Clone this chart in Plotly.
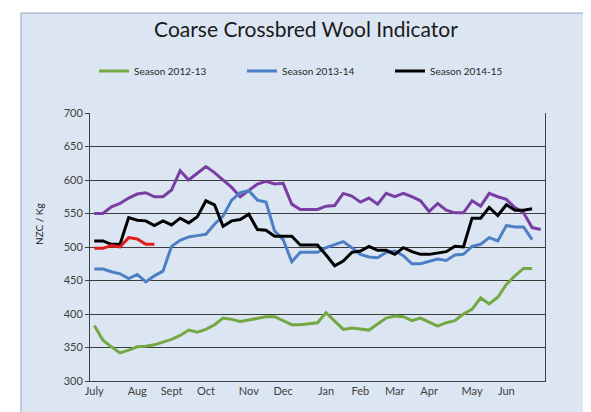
import plotly.graph_objects as go

# ---- data (weekly index 0..52, July -> June) ----
month_labels = ["July", "Aug", "Sept", "Oct", "Nov", "Dec", "Jan", "Feb", "Mar", "Apr", "May", "Jun"]
month_positions = [0, 5, 9, 13, 18, 22, 27, 31, 35, 39, 44, 48]

season_2011_12 = [550, 550, 560, 565, 573, 579, 581, 575, 575, 585, 614, 600, 610, 620,
                  611, 600, 589, 575, 584, 594, 598, 594, 595, 564, 556, 556, 556,
                  561, 562, 580, 576, 567, 573, 564, 580, 575, 580, 575, 569, 553, 565,
                  555, 551, 551, 569, 561, 580, 575, 571, 559, 551, 529, 526]
season_2012_13 = [383, 361, 351, 342, 346, 351, 352, 354, 358, 362,
                  368, 376, 373, 377, 384, 394, 392, 389, 391, 394,
                  396, 396, 390, 384, 384, 385, 387, 402, 390, 377,
                  379, 377, 376, 385, 394, 397, 396, 390, 394, 388,
                  382, 387, 390, 400, 407, 424, 415, 425, 444, 457, 468, 468]
season_2013_14 = [467, 467, 463, 460, 453, 459, 448, 457, 464, 501, 510, 515, 517, 519,
                  534, 546, 570, 581, 584, 570, 567, 524, 511, 478, 492, 492, 492,
                  499, 504, 508, 499, 489, 485, 484, 492, 494, 487, 475, 475, 478, 482,
                  480, 488, 489, 501, 504, 514, 509, 532, 530, 530, 511]
season_2014_15 = [509, 509, 504, 504, 544, 540, 539, 532, 539, 533, 543, 536, 545, 569,
                  563, 531, 539, 541, 549, 526, 525, 516, 516, 516, 503, 503, 503,
                  488, 472, 479, 492, 494, 501, 495, 495, 489, 499, 493, 489, 489, 491,
                  493, 501, 500, 543, 543, 559, 547, 563, 555, 555, 557]
season_2015_16 = [498, 498, 502, 500, 514, 512, 504, 504]

series = [
    ("Season 2011-12", season_2011_12, "#7a3ea3", False),
    ("Season 2012-13", season_2012_13, "#74a844", True),
    ("Season 2013-14", season_2013_14, "#4d7fc4", True),
    ("Season 2014-15", season_2014_15, "#000000", True),
    ("Season 2015-16", season_2015_16, "#e21b1b", False),
]

fig = go.Figure()
for name, vals, color, show in series:
    fig.add_trace(go.Scatter(
        x=list(range(len(vals))), y=vals, mode="lines", name=name,
        line=dict(color=color, width=3), showlegend=show,
    ))

FONT = "Lato"
L, R, T, B = 82, 54, 105, 39
PW, PH = 591 - L - R, 412 - T - B

def px_x(p):
    return (p - L) / PW

def px_y(p):
    return (412 - B - p) / PH

fig.update_layout(
    width=591, height=412,
    margin=dict(l=L, r=R, t=T, b=B),
    paper_bgcolor="white",
    plot_bgcolor="rgba(0,0,0,0)",
    font=dict(family=FONT, color="#404040", size=10),
    title=dict(text="Coarse Crossbred Wool Indicator", xref="container", x=298 / 591,
               xanchor="center", y=1 - 22 / 412, yanchor="middle",
               font=dict(family=FONT, size=21, color="#1a1a1a")),
    showlegend=True,
    legend=dict(orientation="h", x=px_x(86), xanchor="left", y=px_y(63), yanchor="middle",
                bgcolor="rgba(0,0,0,0)", font=dict(family=FONT, size=10, color="#262626"),
                itemwidth=30, traceorder="normal", entrywidth=103),
    shapes=[dict(type="rect", xref="paper", yref="paper",
                 x0=px_x(13), x1=px_x(583), y0=px_y(406), y1=px_y(5),
                 fillcolor="#dce6f2", line=dict(color="#8fa7c3", width=1), layer="below")],
    annotations=[dict(text="NZC / Kg", textangle=-90, xref="paper", yref="paper",
                      x=px_x(31), y=px_y(216), xanchor="center", yanchor="middle",
                      showarrow=False, font=dict(family=FONT, size=10, color="#262626"))],
)
fig.update_xaxes(range=[-0.5, 52.5], tickvals=month_positions, ticktext=month_labels,
                 showgrid=False, zeroline=False, showline=True, linecolor="#404040",
                 linewidth=1, ticks="", tickfont=dict(family=FONT, size=11, color="#404040"))
fig.update_yaxes(range=[300, 700], dtick=50, showgrid=True, gridcolor="#3c3c3c", gridwidth=1,
                 zeroline=False, showline=True, mirror=True, linecolor="#404040", linewidth=1,
                 ticks="outside", ticklen=4, tickcolor="#404040",
                 tickfont=dict(family=FONT, size=11, color="#404040"))

fig.write_html("out.html")
